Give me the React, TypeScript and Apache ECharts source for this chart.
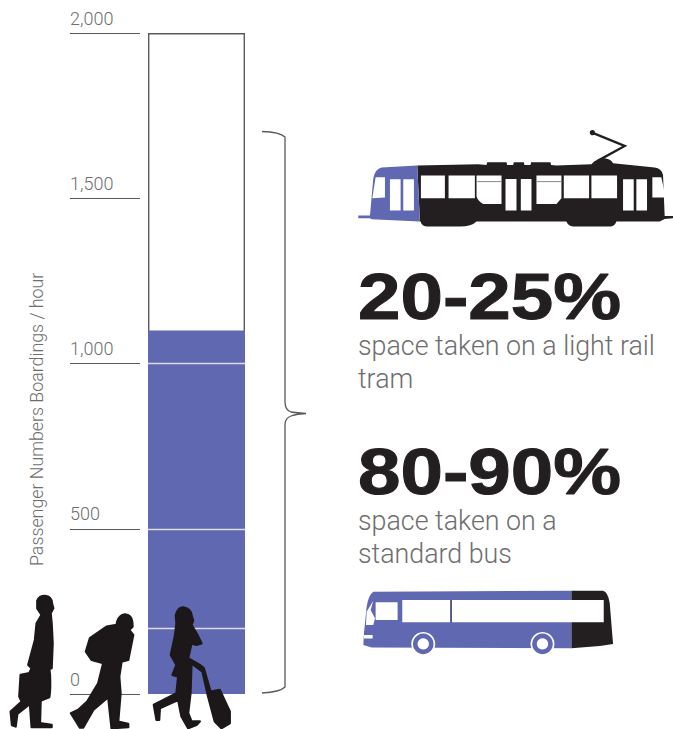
import React, { useEffect, useRef } from "react";
import * as echarts from "echarts";

// Chart values
const categories = ["Boardings"];
const scaleMaximum = [2000];
const busCapacityBoardings = [1100];
const dividerValues = [1000, 500, 200];
const axisMin = 0;
const axisMax = 2000;
const axisStep = 500;

// Text
const axisTitle = "Passenger Numbers Boardings / hour";
const tramShare = "20-25%";
const tramCaption = ["space taken on a light rail", "tram"];
const busShare = "80-90%";
const busCaption = ["space taken on a", "standard bus"];

// Palette
const BLUE = "#6068b2";
const INK = "#231f20";
const GREY = "#6e6e6e";
const RULE = "#5a5a5a";

// Pictogram outlines are authored at 3x so they are drawn with a 1/3 scale
const shapes: Record<string, string> = {
  walkerOne:
    "M112,62 Q118,48 135,48 Q155,50 156,70 L160,85 L152,100 L155,130 L158,190 L155,265 L148,268 L150,285 Q152,330 148,352 L122,362 L120,430 L155,435 L155,442 L95,442 L90,372 L52,402 L47,440 L36,436 L32,395 L65,365 L58,350 L62,285 L88,280 L95,265 L85,255 L105,180 L110,130 L125,105 L112,85 Z",
  walkerTwo:
    "M352,125 Q358,105 375,103 Q395,105 397,125 L398,140 L388,150 L400,165 L385,240 L365,245 L358,290 L362,340 L355,425 L385,432 L385,442 L335,445 L325,352 L280,390 L250,443 L240,443 L213,400 L235,390 L262,365 L295,310 L310,250 L275,240 L258,215 L270,175 L320,140 L350,135 Z",
  walkerThree:
    "M528,105 Q535,82 550,82 Q572,85 575,105 L580,122 L575,135 L590,160 L605,190 L590,195 L575,190 L565,235 L600,255 L612,265 L632,335 L660,330 L690,395 L690,430 L665,445 L645,425 L625,350 L608,275 L575,250 L572,340 L565,400 L575,425 L600,425 L590,435 L565,445 L545,410 L535,360 L480,385 L478,420 L470,420 L462,375 L530,340 L535,290 L518,285 L530,255 L513,225 L525,170 L530,130 Z",
  tramDark:
    "M232,137 L415,133 L440,135 L442,127 L500,127 L502,135 L520,135 L522,127 L552,127 L554,135 L572,135 L574,127 L632,127 L634,135 L650,137 L755,133 Q770,115 795,115 Q815,118 820,130 L945,143 Q965,145 970,165 L975,288 L1000,288 L1000,295 L975,297 L960,305 L830,305 Q825,320 810,320 L700,320 Q685,318 680,305 L410,305 Q395,320 360,320 L260,320 Q245,318 242,305 L240,305 Z",
  tramFront:
    "M232,137 L125,143 Q105,148 100,175 L90,287 L55,287 L55,295 L90,295 L95,298 L240,305 Z",
  tramGlass:
    "M107,172 L135,172 L135,233 L97,235 Z M150,178 L182,178 L182,272 L150,272 Z M190,178 L222,178 L222,272 L190,272 Z M243,167 L315,167 L315,235 L243,235 Z M326,167 L405,167 L405,235 L326,235 Z M410,167 L485,167 L485,252 L430,252 Q415,245 410,230 Z M497,177 L530,177 L530,272 L497,272 Z M543,177 L575,177 L575,272 L543,272 Z M590,167 L665,167 L665,235 L650,252 L590,252 Z M672,167 L748,167 L748,235 L672,235 Z M755,167 L832,167 L832,235 L755,235 Z M850,178 L882,178 L882,272 L850,272 Z M890,178 L922,178 L922,272 L890,272 Z M938,172 L965,172 L978,233 L938,233 Z",
  busBlue:
    "M100,65 L695,62 L695,235 L95,233 L70,225 L72,190 L80,110 Q85,75 100,65 Z",
  busDark:
    "M695,62 L790,62 Q805,65 810,100 L820,222 L780,228 L695,235 Z",
  busGlass:
    "M100,92 L92,120 L105,145 L100,165 L78,165 L80,125 Z M107,97 L173,97 L173,150 L107,150 Z M187,90 L331,90 L331,157 L187,157 Z M336,90 L792,90 L792,157 L336,157 Z M72,195 L98,195 L98,206 L72,206 Z",
  brace:
    "M262,131.5 Q280,132 285,137 L285,402 Q285,410 291,412 Q297,413 306,413.5 Q297,414 291,416 Q285,418 285,425 L285,687 Q280,692 262,693",
};

Object.entries(shapes).forEach(([name, d]) => {
  echarts.graphic.registerShape(name, echarts.graphic.extendPath(d, {}));
});

const Z = 50;
const fillShape = (type: string, fill: string) => ({ type, z: Z, style: { fill } });
// Walkers get a rounded outline so that their limbs read as solid silhouettes
const walker = (type: string) => ({
  type,
  z: Z,
  style: { fill: "#1c1819", stroke: "#1c1819", lineWidth: 7, lineJoin: "round" },
});
const picto = (x: number, y: number, children: any[]) => ({
  type: "group",
  x,
  y,
  scaleX: 1 / 3,
  scaleY: 1 / 3,
  children,
});

const bigFigure = (text: string, y: number) => ({
  type: "text",
  z: Z,
  x: 358,
  y,
  scaleX: 1.175,
  style: {
    text,
    font: "bold 65px 'Liberation Sans'",
    fill: INK,
    stroke: INK,
    lineWidth: 1,
    textVerticalAlign: "top",
  },
});

const caption = (text: string, y: number) => ({
  type: "text",
  z: Z,
  x: 358,
  y,
  style: {
    text,
    font: "300 26.8px Roboto",
    fill: GREY,
    textVerticalAlign: "top",
  },
});

const wheel = (cx: number) => [
  { type: "circle", z: Z + 1, shape: { cx, cy: 222, r: 36 }, style: { fill: "#ffffff" } },
  { type: "circle", z: Z + 2, shape: { cx, cy: 222, r: 31 }, style: { fill: BLUE } },
  { type: "circle", z: Z + 3, shape: { cx, cy: 222, r: 17 }, style: { fill: "#ffffff" } },
];

export default function App() {
  const ref = useRef<HTMLDivElement>(null);

  useEffect(() => {
    if (!ref.current) return;
    const chart = echarts.init(ref.current, undefined, { renderer: "svg" });
    chart.setOption({
      animation: false,
      backgroundColor: "#ffffff",
      grid: { left: 148, right: 428, top: 33, bottom: 35, containLabel: false },
      xAxis: {
        type: "category",
        data: categories,
        show: false,
      },
      yAxis: {
        type: "value",
        min: axisMin,
        max: axisMax,
        interval: axisStep,
        position: "left",
        offset: 8,
        axisLine: { show: false },
        splitLine: { show: false },
        axisTick: { show: true, length: 70, lineStyle: { color: RULE, width: 1.2 } },
        axisLabel: {
          margin: 70,
          align: "left",
          verticalAlign: "bottom",
          padding: [0, 0, 6, 0],
          color: GREY,
          fontFamily: "Roboto",
          fontWeight: 300,
          fontSize: 18,
          formatter: (v: number) => v.toLocaleString("en-US"),
        },
      },
      series: [
        {
          type: "bar",
          data: scaleMaximum,
          barWidth: "100%",
          barGap: "-100%",
          silent: true,
          itemStyle: { color: "#ffffff", borderColor: RULE, borderWidth: 1.4 },
        },
        {
          type: "bar",
          data: busCapacityBoardings,
          barWidth: "100%",
          barGap: "-100%",
          silent: true,
          itemStyle: { color: BLUE },
          markLine: {
            silent: true,
            symbol: "none",
            label: { show: false },
            lineStyle: { color: "#dcdcee", type: "solid", width: 1.3 },
            data: dividerValues.map((yAxis) => ({ yAxis })),
          },
        },
      ],
      graphic: [
        {
          type: "text",
          z: Z,
          x: 45,
          y: 566,
          rotation: Math.PI / 2,
          style: {
            text: axisTitle,
            font: "300 17.8px Roboto",
            fill: GREY,
            textVerticalAlign: "bottom",
          },
        },
        {
          type: "brace",
          z: Z,
          style: { fill: "none", stroke: RULE, lineWidth: 1.3 },
        },
        picto(0, 580, [walker("walkerOne"), walker("walkerTwo"), walker("walkerThree")]),
        picto(340, 120, [
          fillShape("tramDark", INK),
          fillShape("tramFront", BLUE),
          { type: "tramGlass", z: Z + 1, style: { fill: "#ffffff" } },
          {
            type: "polyline",
            z: Z,
            shape: { points: [[757, 38], [855, 78], [775, 122]] },
            style: { stroke: INK, lineWidth: 7, fill: "none" },
          },
          {
            type: "circle",
            z: Z,
            shape: { cx: 758, cy: 38, r: 8 },
            style: { fill: INK },
          },
          {
            type: "line",
            z: Z + 2,
            shape: { x1: 412, y1: 185, x2: 485, y2: 185 },
            style: { stroke: "#8a8a8a", lineWidth: 3 },
          },
          {
            type: "line",
            z: Z + 2,
            shape: { x1: 590, y1: 185, x2: 665, y2: 185 },
            style: { stroke: "#8a8a8a", lineWidth: 3 },
          },
        ]),
        bigFigure(tramShare, 264),
        caption(tramCaption[0], 332),
        caption(tramCaption[1], 365),
        bigFigure(busShare, 439),
        caption(busCaption[0], 507),
        caption(busCaption[1], 540),
        picto(340, 570, [
          fillShape("busBlue", BLUE),
          fillShape("busDark", INK),
          { type: "busGlass", z: Z + 1, style: { fill: "#ffffff" } },
          {
            type: "line",
            z: Z + 2,
            shape: { x1: 333.5, y1: 90, x2: 333.5, y2: 157 },
            style: { stroke: "#3c3c50", lineWidth: 3 },
          },
          ...wheel(250),
          ...wheel(608),
        ]),
      ],
    });
    return () => chart.dispose();
  }, []);

  return (
    <div
      ref={ref}
      style={{ position: "absolute", left: 0, top: 0, width: 673, height: 729 }}
    />
  );
}
